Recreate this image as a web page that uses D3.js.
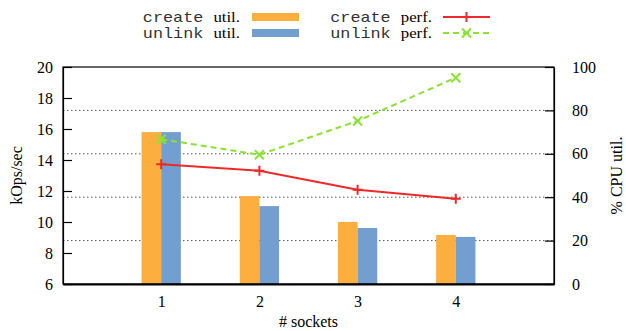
<!DOCTYPE html>
<html>
<head>
<meta charset="utf-8">
<script src="https://cdn.jsdelivr.net/npm/d3@7"></script>
<style>
  html, body { margin: 0; padding: 0; background: #fff; }
  svg { display: block; }
</style>
</head>
<body>
<svg id="chart" width="626" height="331"></svg>
<script>
// Socket scaling: throughput (kOps/sec) and CPU utilisation per socket count
const sockets = [1, 2, 3, 4];
const createUtil = [70.0, 40.5, 28.6, 22.6];   // % CPU
const unlinkUtil = [70.0, 35.9, 25.8, 21.7];   // % CPU
const createPerf = [13.72, 13.31, 12.08, 11.50]; // kOps/sec
const unlinkPerf = [15.34, 14.34, 16.52, 19.31]; // kOps/sec
const leftTicks = [6, 8, 10, 12, 14, 16, 18, 20];
const rightTicks = [0, 20, 40, 60, 80, 100];

const colors = {
  createUtil: "#fcaf3e",
  unlinkUtil: "#729fcf",
  createPerf: "#ef2929",
  unlinkPerf: "#8ae234"
};

const serif = "'Liberation Serif', 'Times New Roman', serif";
const mono = "'Liberation Mono', 'Courier New', monospace";

const svg = d3.select("#chart");
const m = { left: 63, right: 72, top: 67, bottom: 47 };
const W = 626, H = 331;
const x0 = m.left, x1 = W - m.right, y0 = H - m.bottom, y1 = m.top;

const x = d3.scaleLinear().domain([0, 5]).range([x0, x1]);
const yL = d3.scaleLinear().domain([6, 20]).range([y0, y1]);
const yR = d3.scaleLinear().domain([0, 100]).range([y0, y1]);
const barW = x(0.2) - x(0);

// dotted grid at the right-axis ticks
svg.append("g").selectAll("line")
  .data(rightTicks.filter(t => t > 0 && t < 100))
  .join("line")
  .attr("x1", x0).attr("x2", x1)
  .attr("y1", d => yR(d)).attr("y2", d => yR(d))
  .attr("stroke", "#555").attr("stroke-width", 1)
  .attr("stroke-dasharray", "1.5,2.5");

// utilisation bars
const bars = svg.append("g");
bars.selectAll("rect.c").data(sockets).join("rect")
  .attr("class", "c")
  .attr("x", (d) => x(d) - barW)
  .attr("width", barW)
  .attr("y", (d, i) => yR(createUtil[i]))
  .attr("height", (d, i) => y0 - yR(createUtil[i]))
  .attr("fill", colors.createUtil);
bars.selectAll("rect.u").data(sockets).join("rect")
  .attr("class", "u")
  .attr("x", (d) => x(d))
  .attr("width", barW)
  .attr("y", (d, i) => yR(unlinkUtil[i]))
  .attr("height", (d, i) => y0 - yR(unlinkUtil[i]))
  .attr("fill", colors.unlinkUtil);

// frame
svg.append("rect")
  .attr("x", x0).attr("y", y1)
  .attr("width", x1 - x0).attr("height", y0 - y1)
  .attr("fill", "none").attr("stroke", "#000").attr("stroke-width", 1.2);

// axes
const axL = d3.axisLeft(yL).tickValues(leftTicks).tickSizeInner(-9).tickSizeOuter(0).tickPadding(10);
const axR = d3.axisRight(yR).tickValues(rightTicks).tickSizeInner(-9).tickSizeOuter(0).tickPadding(18);
const axB = d3.axisBottom(x).tickValues(sockets).tickFormat(d3.format("d"))
  .tickSizeInner(0).tickSizeOuter(0).tickPadding(12);

function styleAxis(g) {
  g.attr("font-family", serif);
  g.select(".domain").attr("stroke", "#000").attr("stroke-width", 1.2);
  g.selectAll(".tick line").attr("stroke", "#000").attr("stroke-width", 1.2);
  g.selectAll(".tick text").attr("font-family", serif).attr("font-size", 16).attr("fill", "#000");
}
svg.append("g").attr("transform", `translate(${x0},0)`).call(axL).call(styleAxis);
svg.append("g").attr("transform", `translate(${x1},0)`).call(axR).call(styleAxis)
  .selectAll(".tick text").attr("text-anchor", "start");
svg.append("g").attr("transform", `translate(0,${y0})`).call(axB).call(styleAxis)
  .select(".domain").attr("stroke-width", 2);

// performance lines
const lineGen = (vals) => d3.line().x((d, i) => x(sockets[i])).y(d => yL(d))(vals);

svg.append("path").attr("d", lineGen(createPerf))
  .attr("fill", "none").attr("stroke", colors.createPerf).attr("stroke-width", 2);
svg.append("path").attr("d", lineGen(unlinkPerf))
  .attr("fill", "none").attr("stroke", colors.unlinkPerf).attr("stroke-width", 2)
  .attr("stroke-dasharray", "6,4");

function plusPath(cx, cy, s) {
  return `M${cx - s},${cy}H${cx + s}M${cx},${cy - s}V${cy + s}`;
}
function crossPath(cx, cy, s) {
  return `M${cx - s},${cy - s}L${cx + s},${cy + s}M${cx - s},${cy + s}L${cx + s},${cy - s}`;
}
svg.append("g").selectAll("path").data(createPerf).join("path")
  .attr("d", (d, i) => plusPath(x(sockets[i]), yL(d), 5))
  .attr("stroke", colors.createPerf).attr("stroke-width", 2).attr("fill", "none");
svg.append("g").selectAll("path").data(unlinkPerf).join("path")
  .attr("d", (d, i) => crossPath(x(sockets[i]), yL(d), 4.5))
  .attr("stroke", colors.unlinkPerf).attr("stroke-width", 2).attr("fill", "none");

// axis titles
svg.append("text")
  .attr("transform", `translate(22,${(y0 + y1) / 2}) rotate(-90)`)
  .attr("text-anchor", "middle")
  .attr("font-family", serif).attr("font-size", 16)
  .text("kOps/sec");
svg.append("text")
  .attr("transform", `translate(622,${(y0 + y1) / 2}) rotate(-90)`)
  .attr("text-anchor", "middle")
  .attr("font-family", serif).attr("font-size", 16)
  .text("% CPU util.");
svg.append("text")
  .attr("x", (x0 + x1) / 2).attr("y", 327)
  .attr("text-anchor", "middle")
  .attr("font-family", serif).attr("font-size", 16)
  .text("# sockets");

// legend
const legend = [
  { op: "create", kind: "util.", key: "createUtil", col: 0, row: 0 },
  { op: "unlink", kind: "util.", key: "unlinkUtil", col: 0, row: 1 },
  { op: "create", kind: "perf.", key: "createPerf", col: 1, row: 0 },
  { op: "unlink", kind: "perf.", key: "unlinkPerf", col: 1, row: 1 }
];
const colTextEnd = [240, 432];
const colSample = [252, 443];
const rowY = [17, 33];

legend.forEach(l => {
  const t = svg.append("text")
    .attr("transform", `translate(${colTextEnd[l.col]},${rowY[l.row] + 5}) scale(1.2,1)`)
    .attr("text-anchor", "end")
    .attr("font-size", 14);
  t.append("tspan").attr("font-family", mono).attr("fill", "#333").text(l.op + " ");
  t.append("tspan").attr("font-family", serif).attr("fill", "#000").text(l.kind);

  const sx = colSample[l.col], sw = 47, cy = rowY[l.row];
  if (l.kind === "util.") {
    svg.append("rect").attr("x", sx).attr("y", cy - 4).attr("width", sw).attr("height", 8)
      .attr("fill", colors[l.key]);
  } else {
    svg.append("line").attr("x1", sx).attr("x2", sx + sw).attr("y1", cy).attr("y2", cy)
      .attr("stroke", colors[l.key]).attr("stroke-width", 2)
      .attr("stroke-dasharray", l.key === "unlinkPerf" ? "6,4" : null);
    svg.append("path")
      .attr("d", l.key === "createPerf" ? plusPath(sx + sw / 2, cy, 5) : crossPath(sx + sw / 2, cy, 4.5))
      .attr("stroke", colors[l.key]).attr("stroke-width", 2).attr("fill", "none");
  }
});
</script>
</body>
</html>
